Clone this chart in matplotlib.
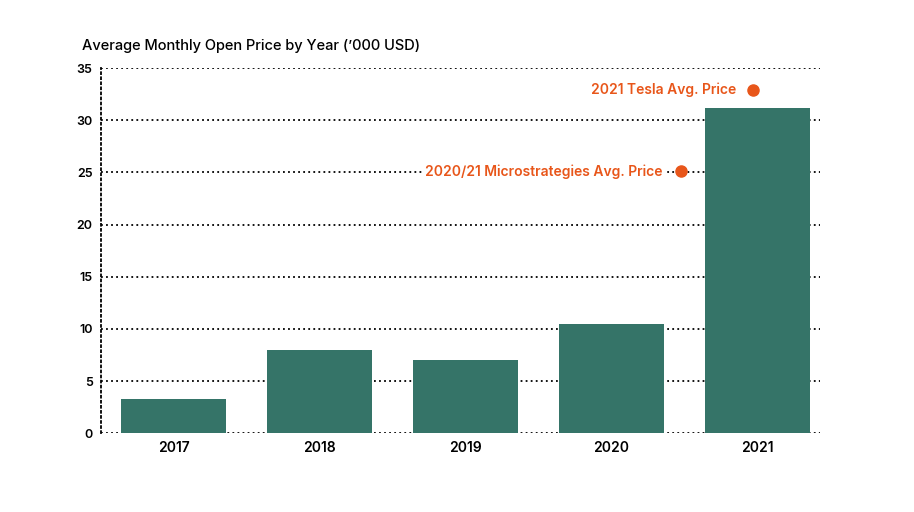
import matplotlib.pyplot as plt

years = ['2017', '2018', '2019', '2020', '2021']
avg_open = [3.25, 7.95, 7.0, 10.45, 31.15]

tesla_label = '2021 Tesla Avg. Price'
tesla_value = 32.9
mstr_label = '2020/21 Microstrategies Avg. Price'
mstr_value = 25.1

bar_color = '#357468'
orange = '#E8561A'

plt.rcParams['font.family'] = ['Inter', 'DejaVu Sans']

fig = plt.figure(figsize=(9.14, 5.12), dpi=100)
ax = fig.add_axes([0.1105, 0.154, 0.7865, 0.713])

x = range(len(years))
ax.bar(x, avg_open, width=0.72, color=bar_color, zorder=3)

ax.set_xlim(-0.5, 4.43)
ax.set_ylim(0, 35)
ax.set_yticks(range(0, 36, 5))
ax.set_xticks(list(x))
ax.set_xticklabels(years, fontsize=10, fontweight='semibold')
ax.tick_params(axis='y', labelsize=9, length=0, pad=6)
ax.tick_params(axis='x', length=0, pad=6)
for lbl in ax.get_yticklabels():
    lbl.set_fontweight('semibold')

ax.grid(axis='y', color='black', linestyle=(0, (1, 1.8)), linewidth=1.3, zorder=1)
for side in ['top', 'right', 'bottom']:
    ax.spines[side].set_visible(False)
ax.spines['left'].set_linestyle((0, (1, 1.8)))
ax.spines['left'].set_linewidth(1.3)

# annotation markers
ax.plot(3.97, tesla_value, 'o', color=orange, markersize=8, zorder=5, clip_on=False)
ax.text(3.86, tesla_value, tesla_label, color=orange, fontsize=10, fontweight='semibold',
        ha='right', va='center', zorder=5)
ax.plot(3.48, mstr_value, 'o', color=orange, markersize=8, zorder=5)
ax.text(3.35, mstr_value, mstr_label, color=orange, fontsize=10, fontweight='semibold',
        ha='right', va='center', zorder=5,
        bbox=dict(facecolor='white', edgecolor='none', pad=2))

fig.text(0.09, 0.91, "Average Monthly Open Price by Year (\u2019000 USD)", fontsize=10.5,
         fontweight='medium', ha='left', va='center')

fig.savefig('out.png', dpi=100)
